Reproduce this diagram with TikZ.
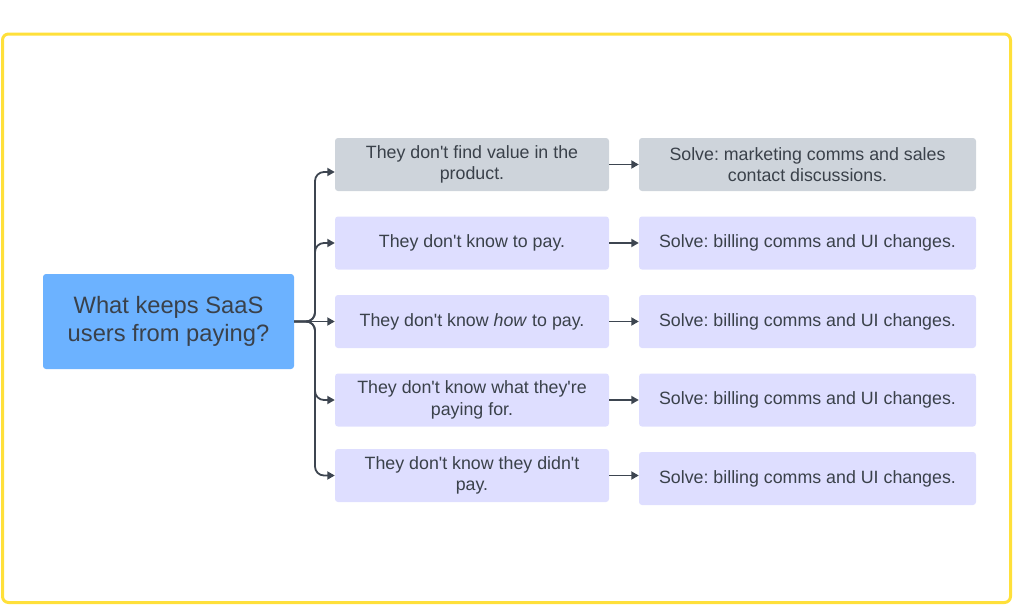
\documentclass[tikz,border=0pt]{standalone}
\usepackage{fontspec}
\setmainfont{Liberation Sans}
\usetikzlibrary{arrows.meta}
\newcommand{\apo}{\textquotesingle}
\frenchspacing
\definecolor{txt}{HTML}{3A414A}
\definecolor{lnc}{HTML}{3D4550}
\definecolor{mainblue}{HTML}{6CB2FF}
\definecolor{grayb}{HTML}{CED4DB}
\definecolor{lavb}{HTML}{DEDEFF}
\definecolor{frameyel}{HTML}{FFE03A}
\tikzset{
  box/.style={rounded corners=3pt, inner sep=0pt, align=center, text=txt,
    font=\fontsize{17.8}{21.4}\selectfont\frenchspacing, minimum height=53pt},
  midbox/.style={box, minimum width=274pt},
  rightbox/.style={box, minimum width=337pt},
  conn/.style={draw=lnc, line width=1.8pt, -{Triangle[length=7.5pt,width=8pt]}},
}
\begin{document}
\begin{tikzpicture}[x=1pt,y=-1pt]
\useasboundingbox (0,0) rectangle (1023,605);
\draw[frameyel, line width=3pt, rounded corners=6pt] (2.5,34) rectangle (1010.5,602.5);

\node[box, fill=mainblue, minimum width=251pt, minimum height=95pt,
  font=\fontsize{23.7}{28.4}\selectfont] (main) at (168.5,321.5)
  {What keeps SaaS\\users from paying?};

\node[midbox, fill=grayb] (m1) at (472,164.5) {They don\apo t find value in the\\product.};
\node[midbox, fill=lavb] (m2) at (472,243) {They don\apo t know to pay.};
\node[midbox, fill=lavb] (m3) at (472,321.5) {They don\apo t know \textit{how} to pay.};
\node[midbox, fill=lavb] (m4) at (472,400) {They don\apo t know what they\apo re\\paying for.};
\node[midbox, fill=lavb] (m5) at (472,475.5) {They don\apo t know they didn\apo t\\pay.};

\node[rightbox, fill=grayb] (r1) at (807.5,164.5) {Solve: marketing comms and sales\\contact discussions.};
\node[rightbox, fill=lavb] (r2) at (807.5,243) {Solve: billing comms and UI changes.};
\node[rightbox, fill=lavb] (r3) at (807.5,321.5) {Solve: billing comms and UI changes.};
\node[rightbox, fill=lavb] (r4) at (807.5,400) {Solve: billing comms and UI changes.};
\node[rightbox, fill=lavb] (r5) at (807.5,478.5) {Solve: billing comms and UI changes.};

\coordinate (tr) at (315,321.5);
\draw[conn] (main.east) -- (m3.west);
\draw[conn, rounded corners=9pt] (main.east) -- (tr) |- ([yshift=-7.5pt]m1.west);
\draw[conn, rounded corners=9pt] (main.east) -- (tr) |- (m2.west);
\draw[conn, rounded corners=9pt] (main.east) -- (tr) |- (m4.west);
\draw[conn, rounded corners=9pt] (main.east) -- (tr) |- (m5.west);

\foreach \i in {1,2,3,4,5}{
  \draw[conn] (m\i.east) -- (r\i.west |- m\i.east);
}
\end{tikzpicture}
\end{document}
